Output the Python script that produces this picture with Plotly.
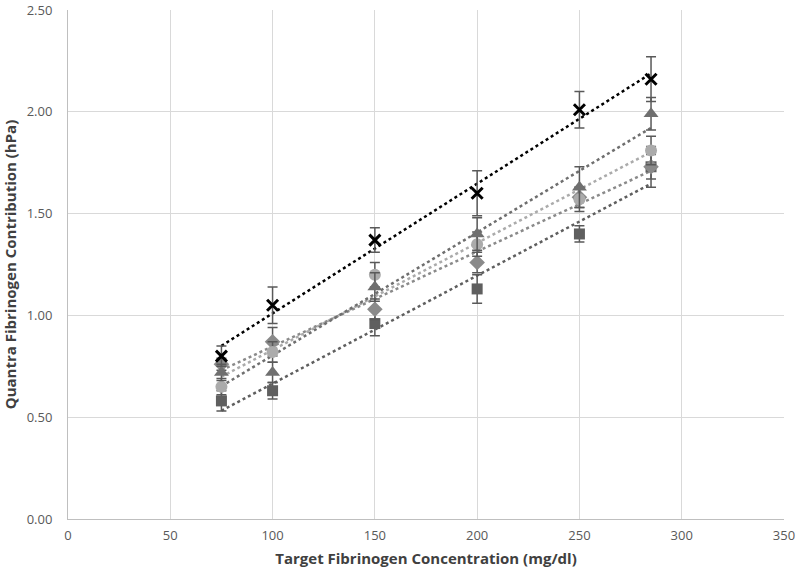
import numpy as np
import plotly.graph_objects as go

x_vals = [75, 100, 150, 200, 250, 285]

series_x = [0.80, 1.05, 1.37, 1.60, 2.01, 2.16]
err_x = [0.05, 0.09, 0.06, 0.11, 0.09, 0.11]

series_tri = [0.72, 0.72, 1.14, 1.40, 1.63, 1.99]
err_tri = [0.04, 0.05, 0.07, 0.08, 0.10, 0.08]

series_circ = [0.65, 0.82, 1.20, 1.35, 1.57, 1.81]
err_circ = [0.04, 0.05, 0.06, 0.06, 0.06, 0.07]

series_dia = [0.76, 0.87, 1.03, 1.26, 1.58, 1.73]
err_dia = [0.03, 0.07, 0.05, 0.05, 0.05, 0.06]

series_sq = [0.58, 0.63, 0.96, 1.13, 1.40, 1.73]
err_sq = [0.05, 0.04, 0.06, 0.07, 0.04, 0.10]

specs = [
    (series_sq, err_sq, "square", "#5f5f5f", 11),
    (series_dia, err_dia, "diamond", "#8a8a8a", 12),
    (series_circ, err_circ, "circle", "#ababab", 12),
    (series_tri, err_tri, "triangle-up", "#6f6f6f", 13),
    (series_x, err_x, "x-thin", "#000000", 11),
]

fig = go.Figure()
xs = np.array(x_vals, dtype=float)
for ys, es, sym, col, sz in specs:
    m, b = np.polyfit(xs, np.array(ys), 1)
    fig.add_trace(go.Scatter(
        x=[xs.min(), xs.max()], y=[m * xs.min() + b, m * xs.max() + b],
        mode="lines", line=dict(color=col, width=2.5, dash="dot"),
        hoverinfo="skip", showlegend=False))
for ys, es, sym, col, sz in specs:
    marker = dict(symbol=sym, size=sz, color=col)
    if sym == "x-thin":
        marker = dict(symbol=sym, size=sz, color=col, line=dict(color=col, width=3))
    fig.add_trace(go.Scatter(
        x=x_vals, y=ys, mode="markers", marker=marker,
        error_y=dict(type="data", array=es, visible=True, color="#595959", thickness=1.5, width=5),
        showlegend=False))

fig.update_layout(
    width=800, height=577,
    margin=dict(l=68, r=16, t=10, b=58, autoexpand=False),
    paper_bgcolor="white", plot_bgcolor="white",
    font=dict(family="Open Sans, Liberation Sans, sans-serif", color="#595959", size=13),
    xaxis=dict(range=[0, 350], dtick=50, showgrid=True, gridcolor="#d9d9d9", gridwidth=1,
               zeroline=False, showline=True, linecolor="#bfbfbf", ticks="", automargin=False,
               ticklabelstandoff=4,
               title=dict(text="<b>Target Fibrinogen Concentration (mg/dl)</b>",
                          font=dict(size=15, color="#404040"), standoff=10)),
    yaxis=dict(range=[0, 2.5], dtick=0.5, tickformat=".2f", showgrid=True, gridcolor="#d9d9d9",
               gridwidth=1, zeroline=False, showline=True, linecolor="#bfbfbf", ticks="",
               automargin=False, ticklabelstandoff=12,
               title=dict(text="<b>Quantra Fibrinogen Contribution (hPa)</b>",
                          font=dict(size=15, color="#404040"), standoff=8)),
)

fig.write_html("out.html", config={"displayModeBar": False},
               post_script="document.body.style.margin='0px';")
